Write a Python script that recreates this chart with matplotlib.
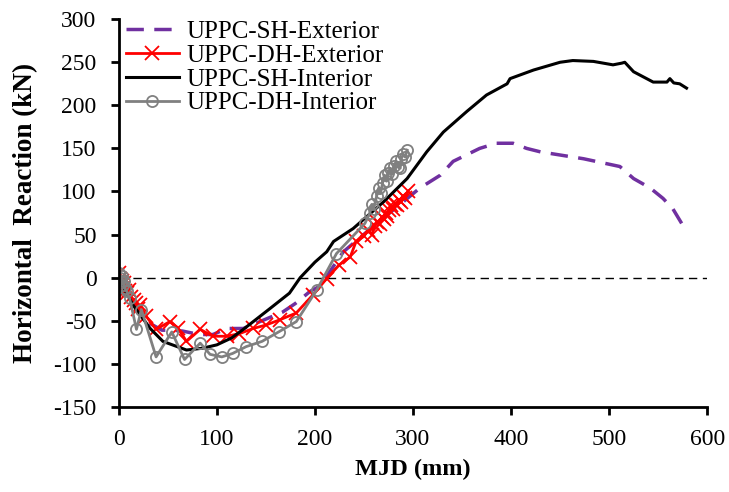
import matplotlib
matplotlib.use("Agg")
import matplotlib.pyplot as plt

plt.rcParams['font.family'] = ['Liberation Serif', 'DejaVu Serif']
plt.rcParams['axes.unicode_minus'] = False

# UPPC-SH-Exterior
sh_ext_x = [0, 5, 12, 20, 30, 44, 55, 65, 82, 96, 110, 127, 144, 167, 180, 195, 205,
            229, 260, 290, 307, 328, 341, 368, 385, 402, 416, 430, 474, 511, 525,
            542, 555, 565, 574]
sh_ext_y = [0, -12, -25, -38, -52, -61, -61, -62, -66, -66, -59, -59, -51, -40, -30,
            -16, -10, 30, 60, 88, 104, 119, 135, 150, 156, 156, 150, 146, 138, 129,
            115, 104, 92, 80, 63]

# UPPC-DH-Exterior
dh_ext_x = [0, 1, 2, 3, 4, 5, 6, 8, 10, 12, 15, 18, 20, 22, 28, 38, 52, 60, 69, 83,
            96, 110, 123, 137, 150, 164, 181, 198, 212, 225, 236, 242, 250, 254, 258,
            261, 263, 266, 268, 270, 272, 274, 276, 278, 280, 282, 284, 286, 288, 290,
            292, 295]
dh_ext_y = [5, -2, -8, -4, -12, -6, -15, -18, -14, -22, -26, -30, -36, -32, -45, -60,
            -51, -58, -74, -60, -68, -68, -65, -59, -55, -49, -41, -20, -1, 15, 24,
            42, 48, 55, 50, 60, 65, 62, 70, 68, 75, 72, 78, 84, 80, 86, 84, 90, 88,
            95, 92, 100]

# UPPC-SH-Interior
sh_int_x = [0, 5, 14.6, 32, 45, 69, 85, 100, 115, 127, 154, 174, 185, 200, 212, 219,
            239, 270, 294, 314, 331, 355, 375, 396, 399, 423, 450, 463, 484, 504,
            513, 516, 525, 545, 559, 562, 566, 572, 579]
sh_int_y = [0, -12, -32, -59, -74, -84, -82, -78, -70, -60, -36, -18, 0, 18, 30, 42,
            57, 88, 115, 146, 169, 193, 212, 225, 231, 241, 250, 252, 251, 247, 249,
            250, 239, 227, 227, 231, 226, 225, 220]

# UPPC-DH-Interior
dh_int_x = [0, 1, 2, 3, 4, 5, 6, 8, 11, 18, 23, 38, 54, 67, 83, 93, 105, 116, 130,
            146, 163, 181, 202, 222, 251, 256, 258, 260, 263, 265, 267, 269, 271,
            273, 275, 277, 279, 281, 283, 285, 287, 288, 290, 292, 294]
dh_int_y = [5, 0, -5, 2, -8, -4, -12, -16, -24, -60, -37, -92, -63, -95, -76, -89,
            -92, -88, -80, -74, -63, -51, -14, 28, 63, 75, 85, 80, 95, 104, 98, 110,
            119, 112, 122, 127, 120, 130, 135, 128, 127, 138, 143, 140, 148]

xticks = [0, 100, 200, 300, 400, 500, 600]
yticks = [-150, -100, -50, 0, 50, 100, 150, 200, 250, 300]

fig = plt.figure(figsize=(7.29, 4.92), dpi=100)
ax = fig.add_axes([0.163, 0.173, 0.807, 0.788])

ax.axhline(0, color='black', lw=1, ls=(0, (6, 4)), zorder=1)
ax.plot(sh_ext_x, sh_ext_y, color='#7030A0', lw=2.5, ls=(0, (5, 3)),
        label='UPPC-SH-Exterior')
ax.plot(dh_ext_x, dh_ext_y, color='#FF0000', lw=2, marker='x', ms=10, mew=1.3,
        label='UPPC-DH-Exterior')
ax.plot(sh_int_x, sh_int_y, color='black', lw=2.2, label='UPPC-SH-Interior')
ax.plot(dh_int_x, dh_int_y, color='#808080', lw=2, marker='o', ms=8, mfc='none',
        mew=1.3, label='UPPC-DH-Interior')

ax.set_xlim(0, 600)
ax.set_ylim(-150, 300)
ax.set_xticks(xticks)
ax.set_yticks(yticks)
ax.spines['top'].set_visible(False)
ax.spines['right'].set_visible(False)
ax.spines['left'].set_linewidth(2)
ax.spines['bottom'].set_linewidth(2)
ax.tick_params(direction='out', width=2, length=6, labelsize=17, pad=10)

ax.set_xlabel('MJD (mm)', fontsize=17.5, fontweight='bold', labelpad=6)
ax.set_ylabel('Horizontal  Reaction (kN)', fontsize=19.5, fontweight='bold',
              labelpad=11)

ax.legend(loc='upper left', bbox_to_anchor=(-0.013, 1.035), frameon=False,
          fontsize=18, handlelength=2.1, handletextpad=0.3, labelspacing=0.05,
          borderaxespad=0.2)

fig.savefig('out.png', dpi=100)
